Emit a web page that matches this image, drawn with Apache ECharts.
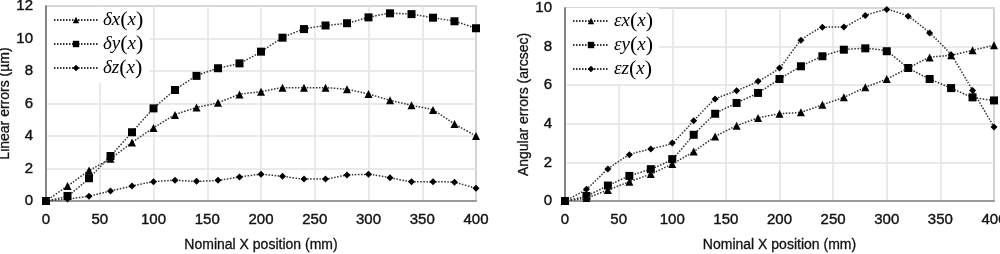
<!DOCTYPE html>
<html>
<head>
<meta charset="utf-8">
<script src="https://cdn.jsdelivr.net/npm/echarts@6/dist/echarts.min.js"></script>
<style>
  html, body { margin: 0; padding: 0; background: #fff; }
  #main { width: 1000px; height: 254px; }
</style>
</head>
<body>
<div id="main"></div>
<script>
// nominal X positions (mm)
var positions = [0, 20, 40, 60, 80, 100, 120, 140, 160, 180, 200, 220, 240, 260, 280, 300, 320, 340, 360, 380, 400];

// linear errors (µm)
var dx = [0, 0.92, 1.87, 2.6, 3.6, 4.5, 5.3, 5.75, 6.05, 6.56, 6.73, 6.97, 6.97, 6.97, 6.87, 6.58, 6.2, 5.89, 5.6, 4.74, 4.0];
var dy = [0, 0.31, 1.4, 2.77, 4.23, 5.7, 6.83, 7.7, 8.17, 8.47, 9.19, 10.05, 10.58, 10.8, 10.94, 11.3, 11.55, 11.5, 11.28, 11.06, 10.63];
var dz = [0, 0.12, 0.3, 0.62, 0.92, 1.19, 1.27, 1.21, 1.27, 1.48, 1.64, 1.52, 1.35, 1.35, 1.6, 1.64, 1.43, 1.19, 1.19, 1.15, 0.78];

// angular errors (arcsec)
var ex = [0, 0.16, 0.57, 1.0, 1.4, 1.92, 2.56, 3.34, 3.9, 4.3, 4.52, 4.6, 4.99, 5.37, 5.89, 6.32, 6.89, 7.44, 7.55, 7.81, 8.07];
var ey = [0, 0.26, 0.8, 1.3, 1.65, 2.17, 3.43, 4.52, 5.08, 5.6, 6.32, 6.98, 7.5, 7.84, 7.91, 7.76, 6.89, 6.32, 5.85, 5.37, 5.21];
var ez = [0, 0.61, 1.66, 2.4, 2.7, 3.0, 4.16, 5.28, 5.71, 6.2, 6.89, 8.33, 9.0, 9.02, 9.61, 9.92, 9.57, 8.71, 7.58, 5.73, 3.83];

var leftNames = ['δx(x)', 'δy(x)', 'δz(x)'];
var rightNames = ['εx(x)', 'εy(x)', 'εz(x)'];
var symbols = ['triangle', 'rect', 'diamond'];
var symbolSizes = [8, 8, 7];

function pairs(vals) {
  return positions.map(function (p, i) { return [p, vals[i]]; });
}

function legendFormatter(name) {
  // name like 'δx(x)' -> italic letters, taller upright brackets
  return '{a|' + name.slice(0, 2) + '}{p|(}{a|x}{p|)}';
}

// slight text border to match the heavier look of the original labels
var labelStyle = { color: '#111', fontFamily: 'Liberation Sans', fontSize: 15, textBorderColor: '#111', textBorderWidth: 0.4 };
var nameStyle = { color: '#111', fontFamily: 'Liberation Sans', fontSize: 14, textBorderColor: '#111', textBorderWidth: 0.3 };
var splitStyle = { show: true, lineStyle: { color: '#e3e3e3', width: 1.5 } };

function xAxisFor(gi) {
  return {
    gridIndex: gi, type: 'value', min: 0, max: 400, interval: 50,
    name: 'Nominal X position (mm)', nameLocation: 'middle', nameGap: 37,
    nameTextStyle: nameStyle,
    axisLine: { lineStyle: { color: '#9a9a9a', width: 2 } },
    axisTick: { show: false },
    axisLabel: Object.assign({ margin: 11 }, labelStyle),
    splitLine: splitStyle
  };
}

function yAxisFor(gi, max, name, gap) {
  return {
    gridIndex: gi, type: 'value', min: 0, max: max, interval: 2,
    name: name, nameLocation: 'middle', nameGap: gap,
    nameTextStyle: nameStyle,
    axisLine: { show: true, lineStyle: { color: '#6a6a6a', width: 1.5 } },
    axisTick: { show: false },
    axisLabel: Object.assign({ margin: 13 }, labelStyle),
    splitLine: splitStyle
  };
}

function legendFor(names, left, top, w) {
  return {
    data: names, orient: 'vertical', left: left, top: top,
    itemWidth: w, itemHeight: 8, itemGap: 2,
    padding: [2, 6, 4, 6],
    backgroundColor: '#fff',
    formatter: legendFormatter,
    textStyle: {
      color: '#000', lineHeight: 20,
      rich: {
        a: { fontFamily: 'Liberation Serif', fontStyle: 'italic', fontSize: 19, color: '#000' },
        p: { fontFamily: 'Liberation Serif', fontSize: 22, color: '#000' }
      }
    }
  };
}

function seriesFor(names, arrays, gi) {
  return names.map(function (n, i) {
    return {
      name: n, type: 'line', xAxisIndex: gi, yAxisIndex: gi,
      data: pairs(arrays[i]),
      symbol: symbols[i], symbolSize: symbolSizes[i],
      smooth: 0.15,
      itemStyle: { color: '#000' },
      lineStyle: { color: '#333', width: 1.5, type: [1.5, 1.5] },
      z: 3 - i
    };
  });
}

var chart = echarts.init(document.getElementById('main'), null, { renderer: 'canvas' });

var option = {
  animation: false,
  backgroundColor: '#fff',
  grid: [
    { left: 46, right: 524, top: 6, bottom: 53, show: true, borderColor: '#6a6a6a', borderWidth: 1.2, outerBoundsMode: 'none' },
    { left: 565, right: 6, top: 8, bottom: 53, show: true, borderColor: '#6a6a6a', borderWidth: 1.2, outerBoundsMode: 'none' }
  ],
  xAxis: [xAxisFor(0), xAxisFor(1)],
  yAxis: [
    yAxisFor(0, 12, 'Linear errors (µm)', 31),
    yAxisFor(1, 10, 'Angular errors (arcsec)', 34)
  ],
  legend: [
    legendFor(leftNames, 47, 7, 44),
    legendFor(rightNames, 566, 8, 36)
  ],
  series: seriesFor(leftNames, [dx, dy, dz], 0).concat(seriesFor(rightNames, [ex, ey, ez], 1))
};

chart.setOption(option);
</script>
</body>
</html>
